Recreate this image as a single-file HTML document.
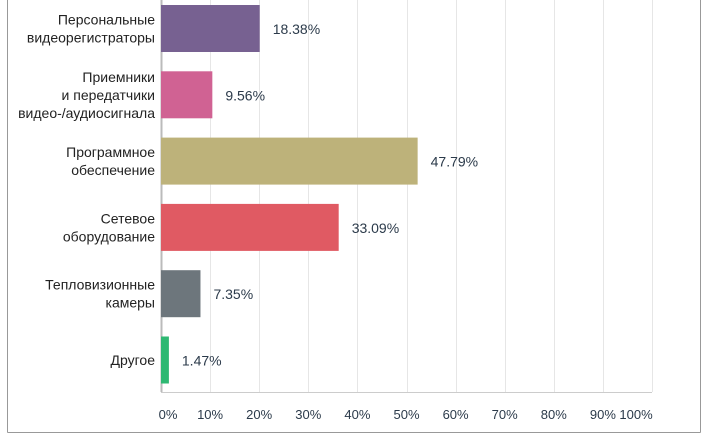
<!DOCTYPE html>
<html><head><meta charset="utf-8"><style>
body{margin:0;background:#fff;width:709px;height:440px;overflow:hidden;font-family:"Liberation Sans","DejaVu Sans",sans-serif}
</style></head><body>
<svg id="c" width="709" height="440" xmlns="http://www.w3.org/2000/svg">
<line x1="7.5" y1="0" x2="7.5" y2="432.5" stroke="#999"/>
<line x1="7.5" y1="432.5" x2="700.5" y2="432.5" stroke="#999"/>
<line x1="700.5" y1="0" x2="700.5" y2="432.5" stroke="#999"/>
<g id="grid"></g><g id="bars"></g><g id="ticks"></g>
</svg>
<script>
const categories=[["Персональные","видеорегистраторы"],["Приемники","и передатчики","видео-/аудиосигнала"],["Программное","обеспечение"],["Сетевое","оборудование"],["Тепловизионные","камеры"],["Другое"]];
const values=[18.38,9.56,47.79,33.09,7.35,1.47];
const colors=["#776191","#d06293","#bdb27a","#e05a63","#6d767c","#2eb872"];
const tickValues=[0,10,20,30,40,50,60,70,80,90,100];
const tickLabels=["0%","10%","20%","30%","40%","50%","60%","70%","80%","90%","100%"];
const NS="http://www.w3.org/2000/svg";
const x0=161;
function xBar(v){return x0+v*5.37;}
function xGrid(v){return x0+v*4.91;}
function yBand(i){return 5+i*66.3;}
const grid=document.getElementById('grid'),bars=document.getElementById('bars'),ticks=document.getElementById('ticks');
function mk(t,a,p){const e=document.createElementNS(NS,t);for(const k in a)e.setAttribute(k,a[k]);p.appendChild(e);return e;}
tickValues.forEach((v,i)=>{
 const x=Math.round(xGrid(v))+0.5;
 const l=mk('line',{x1:x,y1:0,x2:x,y2:392,stroke:i==0?'#bbb':'#e6e6e6','stroke-width':i==0?2:1},grid);
 
 
 let tx=xGrid(v); if(i==0)tx+=7; if(i==10)tx-=16;
 const t=mk('text',{x:tx,y:419,'text-anchor':'middle','font-size':13,fill:'#2b3a4a'},ticks);
 t.textContent=tickLabels[i];
 
 
});
const base=mk('line',{x1:x0,y1:392.5,x2:652,y2:392.5,stroke:'#ccc'},grid);


values.forEach((v,i)=>{
 const y=yBand(i);
 const r=mk('rect',{x:x0,y:y,width:xBar(v)-x0,height:47,fill:colors[i]},bars);
 
 
 const vl=mk('text',{x:xBar(v)+13,y:y+29,'font-size':14,fill:'#2b3a4a'},bars);
 vl.textContent=v.toFixed(2)+'%';
 
 
 const lines=categories[i];const lh=18;const start=y+23.5-(lines.length-1)*lh/2+5;
 lines.forEach((s,j)=>{
  const c=mk('text',{x:155,y:start+j*lh,'text-anchor':'end','font-size':14,fill:'#222'},bars);
  c.textContent=s;
  
  
 });
});
</script>
</body></html>
